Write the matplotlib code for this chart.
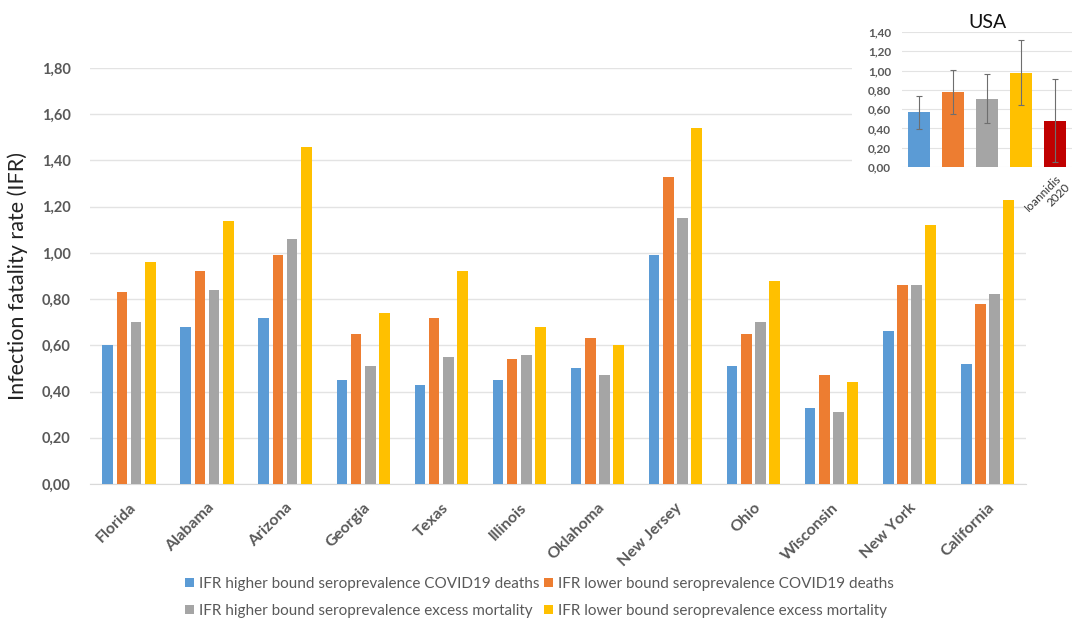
import matplotlib
matplotlib.use("Agg")
import matplotlib.pyplot as plt
from matplotlib.ticker import FuncFormatter, MultipleLocator
import numpy as np

plt.rcParams['font.family'] = ['Lato', 'DejaVu Sans']

# data
states = ["Florida", "Alabama", "Arizona", "Georgia", "Texas", "Illinois",
          "Oklahoma", "New Jersey", "Ohio", "Wisconsin", "New York", "California"]
hb_covid = [0.60, 0.68, 0.72, 0.45, 0.43, 0.45, 0.50, 0.99, 0.51, 0.33, 0.66, 0.52]
lb_covid = [0.83, 0.92, 0.99, 0.65, 0.72, 0.54, 0.63, 1.33, 0.65, 0.47, 0.86, 0.78]
hb_excess = [0.70, 0.84, 1.06, 0.51, 0.55, 0.56, 0.47, 1.15, 0.70, 0.31, 0.86, 0.82]
lb_excess = [0.96, 1.14, 1.46, 0.74, 0.92, 0.68, 0.60, 1.54, 0.88, 0.44, 1.12, 1.23]

series_names = ["IFR higher bound seroprevalence COVID19 deaths",
                "IFR lower bound seroprevalence COVID19 deaths",
                "IFR higher bound seroprevalence excess mortality",
                "IFR lower bound seroprevalence excess mortality"]
colors = ["#5B9BD5", "#ED7D31", "#A5A5A5", "#FFC000"]

# USA inset
usa_labels = ["", "", "", "", "Ioannidis\n2020"]
usa_values = [0.57, 0.78, 0.71, 0.97, 0.48]
usa_low = [0.39, 0.55, 0.46, 0.64, 0.05]
usa_high = [0.74, 1.01, 0.96, 1.32, 0.91]
usa_colors = colors + ["#C00000"]

comma = FuncFormatter(lambda v, p: f"{v:.2f}".replace(".", ","))
tick_gray = "#595959"

fig = plt.figure(figsize=(10.79, 6.24), dpi=100)
ax = fig.add_axes([0.0834, 0.2244, 0.8676, 0.6666])

x = np.arange(len(states))
step = 0.18
width = 0.14
all_series = [hb_covid, lb_covid, hb_excess, lb_excess]
handles = []
for i, vals in enumerate(all_series):
    b = ax.bar(x + (i - 1.5) * step, vals, width, color=colors[i], label=series_names[i], zorder=3)
    handles.append(b)

ax.set_xlim(-0.5, len(states) - 0.5)
ax.set_ylim(0, 1.8)
ax.yaxis.set_major_locator(MultipleLocator(0.2))
ax.yaxis.set_major_formatter(comma)
ax.grid(axis="y", color="#E3E3E3", linewidth=1, zorder=0)
for s in ["top", "right", "left"]:
    ax.spines[s].set_visible(False)
ax.spines["bottom"].set_color("#D9D9D9")
ax.tick_params(axis="both", length=0)
ax.tick_params(axis="y", pad=14, labelsize=10.5, labelcolor=tick_gray)
ax.set_xticks(x)
ax.set_xticklabels(states, rotation=45, ha="right", rotation_mode="anchor",
                   fontsize=11.5, fontweight="bold", color=tick_gray)
ax.tick_params(axis="x", pad=12)
for lbl in ax.get_yticklabels():
    lbl.set_fontweight("bold")
ax.set_ylabel("Infection fatality rate (IFR)", fontsize=15.5, color="#222222", labelpad=10)

# legend filled row by row
order = [0, 2, 1, 3]
fig.legend([handles[k] for k in order], [series_names[k] for k in order],
           loc="lower center", bbox_to_anchor=(0.5, -0.012), ncol=2, frameon=False,
           fontsize=11, handlelength=0.6, handleheight=0.6, handletextpad=0.3,
           columnspacing=0.3, labelspacing=0.85, labelcolor=tick_gray)

# white background for inset
bg = fig.add_axes([0.79, 0.68, 0.21, 0.32])
bg.set_facecolor("white")
bg.axis("off")
bg.add_patch(plt.Rectangle((0, 0), 1, 1, transform=bg.transAxes, color="white"))

ins = fig.add_axes([0.836, 0.7324, 0.1576, 0.2163])
ux = np.arange(len(usa_values))
err = [np.array(usa_values) - np.array(usa_low), np.array(usa_high) - np.array(usa_values)]
ins.bar(ux, usa_values, 0.64, color=usa_colors, zorder=3)
ins.errorbar(ux, usa_values, yerr=err, fmt="none", ecolor="#6E6E6E", elinewidth=0.8,
             capsize=2.5, capthick=0.8, zorder=4)
ins.set_xlim(-0.5, 4.5)
ins.set_ylim(0, 1.4)
ins.yaxis.set_major_locator(MultipleLocator(0.2))
ins.yaxis.set_major_formatter(comma)
ins.grid(axis="y", color="#E3E3E3", linewidth=0.8, zorder=0)
for s in ["top", "right", "left", "bottom"]:
    ins.spines[s].set_visible(False)
ins.tick_params(axis="both", length=0)
ins.tick_params(axis="y", pad=8, labelsize=8.5, labelcolor=tick_gray)
for lbl in ins.get_yticklabels():
    lbl.set_fontweight("bold")
ins.set_xticks(ux)
ins.set_xticklabels(usa_labels, rotation=45, ha="right", rotation_mode="anchor",
                    fontsize=8.5, color="#333333")
ins.tick_params(axis="x", pad=4)
ins.set_title("USA", fontsize=14, color="#111111", pad=3)

fig.savefig("out.png", dpi=100)
